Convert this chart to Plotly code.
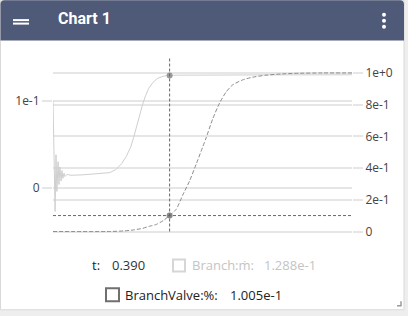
import plotly.graph_objects as go

# ---- data ----
t_flow = [0.000, 0.007, 0.010, 0.013, 0.017, 0.020, 0.023, 0.027, 0.030, 0.033, 0.037, 0.040,
          0.047, 0.060, 0.100, 0.150, 0.190, 0.210, 0.230, 0.245, 0.260, 0.270, 0.280, 0.290,
          0.300, 0.310, 0.320, 0.335, 0.350, 0.370, 0.390, 0.420, 0.500, 0.700, 1.000]
flow = [0.100, -0.027, 0.038, -0.004, 0.030, 0.004, 0.024, 0.008, 0.020, 0.011, 0.017, 0.013,
        0.0155, 0.0145, 0.0150, 0.0160, 0.0175, 0.021, 0.028, 0.036, 0.047, 0.058, 0.071, 0.083,
        0.096, 0.106, 0.114, 0.121, 0.1255, 0.128, 0.1288, 0.1291, 0.1293, 0.1294, 0.1295]

t_valve = [0.000, 0.190, 0.240, 0.270, 0.300, 0.320, 0.346, 0.368, 0.390, 0.412, 0.434, 0.457,
           0.480, 0.500, 0.512, 0.534, 0.557, 0.579, 0.601, 0.634, 0.667, 0.712, 0.767, 0.823,
           0.900, 1.000]
valve = [0.000, 0.000, 0.004, 0.010, 0.020, 0.032, 0.045, 0.068, 0.1005, 0.140, 0.230, 0.320,
         0.430, 0.530, 0.590, 0.710, 0.810, 0.880, 0.925, 0.956, 0.973, 0.986, 0.994, 0.998,
         1.000, 1.000]

cursor_t = 0.390
cursor_flow = 0.1288
cursor_valve = 0.1005

left_ticks = [0, 0.1]
left_labels = ["0", "1e-1"]
right_ticks = [0, 0.2, 0.4, 0.6, 0.8, 1.0]
right_labels = ["0", "2e-1", "4e-1", "6e-1", "8e-1", "1e+0"]

title = "Chart 1"
name_flow = "Branch:ṁ"
name_valve = "BranchValve:%"

# ---- layout geometry (pixels) ----
W_, H_ = 408, 316
L, R, T, B = 53, 352, 58, 233.5
PW, PH = R - L, B - T


def px(x):
    return (x - L) / PW


def py(y):
    return (B - y) / PH


GRID = "#e6e6e6"
FONT = "Open Sans"

fig = go.Figure()
fig.add_trace(go.Scatter(x=t_flow, y=flow, mode="lines", yaxis="y",
                         line=dict(color="#cfcfcf", width=1), hoverinfo="skip", showlegend=False))
fig.add_trace(go.Scatter(x=t_valve, y=valve, mode="lines", yaxis="y2",
                         line=dict(color="#8c8c8c", width=1, dash="4px,2px", shape="spline", smoothing=0.6),
                         hoverinfo="skip", showlegend=False))
fig.add_trace(go.Scatter(x=[cursor_t], y=[cursor_flow], mode="markers", yaxis="y",
                         marker=dict(color="#999999", size=6), hoverinfo="skip", showlegend=False))
fig.add_trace(go.Scatter(x=[cursor_t], y=[cursor_valve], mode="markers", yaxis="y2",
                         marker=dict(color="#888888", size=6), hoverinfo="skip", showlegend=False))

shapes = []
# card
shapes.append(dict(type="rect", xref="paper", yref="paper", x0=px(0.5), x1=px(404), y0=py(310.5), y1=py(0),
                   fillcolor="white", line=dict(color="#d9d9d9", width=1), layer="below"))
# header with rounded top corners
hx0, hx1, hy0, hy1, r = 0.5, 404, 0, 40.5, 4
path = (f"M {px(hx0)},{py(hy1)} L {px(hx0)},{py(hy0 + r)} Q {px(hx0)},{py(hy0)} {px(hx0 + r)},{py(hy0)} "
        f"L {px(hx1 - r)},{py(hy0)} Q {px(hx1)},{py(hy0)} {px(hx1)},{py(hy0 + r)} L {px(hx1)},{py(hy1)} Z")
shapes.append(dict(type="path", xref="paper", yref="paper", path=path, fillcolor="#4f5a78",
                   line=dict(width=0), layer="above"))
# hamburger
for yy in (20, 23.5):
    shapes.append(dict(type="line", xref="paper", yref="paper", x0=px(13), x1=px(29), y0=py(yy), y1=py(yy),
                       line=dict(color="white", width=2)))
# kebab
for yy in (14.7, 20.7, 26.7):
    shapes.append(dict(type="circle", xref="paper", yref="paper", x0=px(382), x1=px(386), y0=py(yy + 2),
                       y1=py(yy - 2), fillcolor="white", line=dict(width=0)))
# crosshair
shapes.append(dict(type="line", xref="x", yref="paper", x0=cursor_t, x1=cursor_t, y0=py(232), y1=py(58),
                   line=dict(color="#5f6774", width=1, dash="3px,2px")))
shapes.append(dict(type="line", xref="paper", yref="y2", x0=0, x1=1, y0=cursor_valve, y1=cursor_valve,
                   line=dict(color="#5f6774", width=1, dash="3px,2px")))
# checkboxes
shapes.append(dict(type="rect", xref="paper", yref="paper", x0=px(173), x1=px(185), y0=py(272), y1=py(260),
                   line=dict(color="#d6d6d6", width=2), fillcolor="white"))
shapes.append(dict(type="rect", xref="paper", yref="paper", x0=px(106), x1=px(119), y0=py(302), y1=py(289),
                   line=dict(color="#707070", width=2), fillcolor="white"))
# resize handle
shapes.append(dict(type="line", xref="paper", yref="paper", x0=px(397), x1=px(401.5), y0=py(306.5), y1=py(306.5),
                   line=dict(color="#9a9a9a", width=1.5)))
shapes.append(dict(type="line", xref="paper", yref="paper", x0=px(401), x1=px(401), y0=py(302), y1=py(306.5),
                   line=dict(color="#9a9a9a", width=1.5)))

ann = []


def text(x, y, s, color="#333333", size=13, family=FONT, xanchor="left"):
    ann.append(dict(xref="paper", yref="paper", x=px(x), y=py(y), text=s, showarrow=False,
                    xanchor=xanchor, yanchor="middle", font=dict(color=color, size=size, family=family)))


text(56, 18.5, f"<b>{title}</b>", color="white", size=16, family="Roboto")
text(89.5, 266, "t:", color="#222222")
text(110, 266, f"{cursor_t:.3f}", color="#333333")
text(190, 266, f"{name_flow}:", color="#c4c4c4")
text(262, 266, f"{cursor_flow:.3e}".replace("e-0", "e-"), color="#c4c4c4")
text(123, 296, f"{name_valve}:", color="#222222")
text(228, 296, f"{cursor_valve:.3e}".replace("e-0", "e-"), color="#222222")

fig.update_layout(
    width=W_, height=H_,
    margin=dict(l=L, r=W_ - R, t=T, b=H_ - B, pad=0),
    paper_bgcolor="#eeeeee",
    plot_bgcolor="rgba(0,0,0,0)",
    showlegend=False,
    shapes=shapes,
    annotations=ann,
    xaxis=dict(range=[0, 1], showgrid=False, zeroline=False, showticklabels=False, showline=False,
               ticks="", fixedrange=True),
    yaxis=dict(range=[-(B - 188.3) / 876, (188.3 - T) / 876], tickvals=left_ticks, ticktext=left_labels,
               showgrid=True, gridcolor=GRID, gridwidth=2, zeroline=False, showline=False,
               ticks="outside", ticklen=10, tickcolor=GRID, tickwidth=2,
               tickfont=dict(family=FONT, size=12, color="#444444")),
    yaxis2=dict(range=[-(B - 232) / 159, (232 - T) / 159], tickvals=right_ticks, ticktext=right_labels,
                overlaying="y", side="right", showgrid=True, gridcolor=GRID, gridwidth=2, zeroline=False,
                showline=False, ticks="outside", ticklen=10, tickcolor=GRID, tickwidth=2,
                tickfont=dict(family=FONT, size=12, color="#444444")),
)

fig.write_html("out.html")
